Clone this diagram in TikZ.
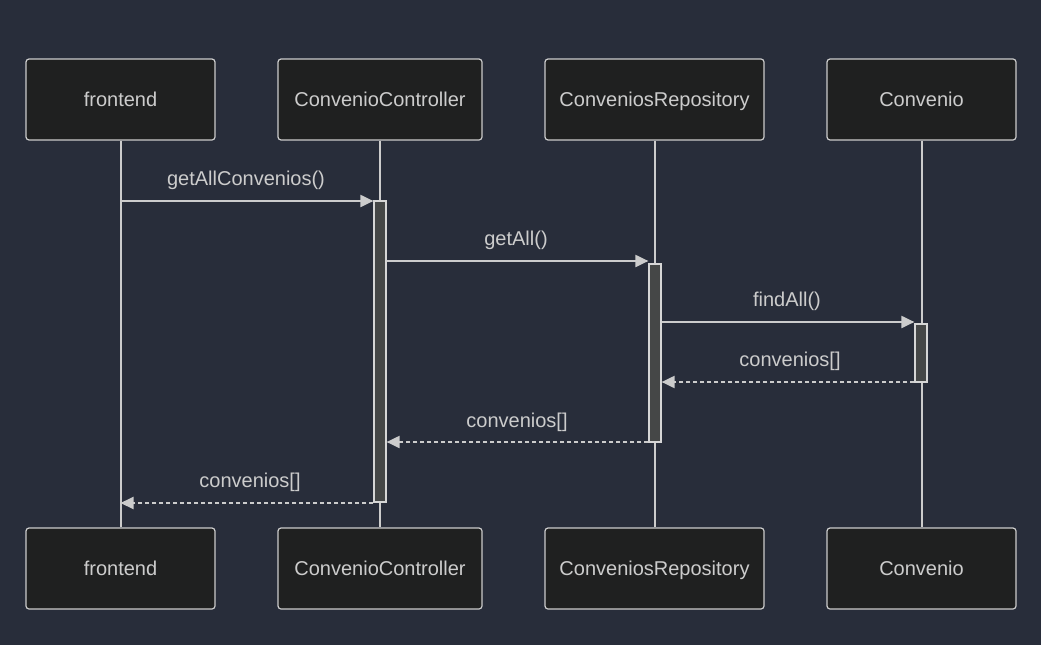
\documentclass[tikz,border=0pt]{standalone}
\usepackage{fontspec}
\setmainfont{Liberation Sans}
\usetikzlibrary{arrows.meta}
\definecolor{bg}{HTML}{282D3A}
\definecolor{boxfill}{HTML}{1F2020}
\definecolor{fg}{HTML}{CCCCCC}
\definecolor{actfill}{HTML}{454747}
\begin{document}
\begin{tikzpicture}[x=1pt,y=-1pt,
  actor/.style={draw=fg, fill=boxfill, line width=1.2pt, rounded corners=3pt,
    text=fg, font=\fontsize{20}{24}\selectfont, inner sep=0pt,
    text height=16.5pt, text depth=2.2pt},
  life/.style={draw=fg, line width=2pt},
  act/.style={draw=fg!80, fill=actfill, line width=1.2pt, inner sep=0pt, minimum width=12pt},
  msg/.style={draw=fg, line width=2pt, -{Triangle[length=13pt,width=12pt]}},
  ret/.style={msg, dash pattern=on 4pt off 3pt},
  lbl/.style={text=fg, font=\fontsize{20}{24}\selectfont}
]
\fill[bg] (0,0) rectangle (1041,645);
\useasboundingbox (0,0) rectangle (1041,645);

% top actors
\node[actor, minimum width=189pt, minimum height=81pt] (f1) at (120.5,99.5) {frontend};
\node[actor, minimum width=204pt, minimum height=81pt] (c1) at (380,99.5) {ConvenioController};
\node[actor, minimum width=219pt, minimum height=81pt] (r1) at (654.5,99.5) {ConveniosRepository};
\node[actor, minimum width=189pt, minimum height=81pt] (v1) at (921.5,99.5) {Convenio};
% bottom actors
\node[actor, minimum width=189pt, minimum height=81pt] (f2) at (120.5,568.5) {frontend};
\node[actor, minimum width=204pt, minimum height=81pt] (c2) at (380,568.5) {ConvenioController};
\node[actor, minimum width=219pt, minimum height=81pt] (r2) at (654.5,568.5) {ConveniosRepository};
\node[actor, minimum width=189pt, minimum height=81pt] (v2) at (921.5,568.5) {Convenio};

% lifelines
\draw[life] (f1.south) -- (f2.north);
\draw[life] (c1.south) -- (c2.north);
\draw[life] (r1.south) -- (r2.north);
\draw[life] (v1.south) -- (v2.north);

% activations
\node[act, minimum height=301pt] (a1) at (380,351.5) {};
\node[act, minimum height=178pt] (a2) at (655,353) {};
\node[act, minimum height=58pt] (a3) at (921,353) {};

% message y positions
\coordinate (y1) at (0,201);
\coordinate (y2) at (0,261);
\coordinate (y3) at (0,322);
\coordinate (y4) at (0,382);
\coordinate (y5) at (0,442);
\coordinate (y6) at (0,503);

\draw[msg] (f1.south |- y1) -- (a1.west |- y1);
\node[lbl] at (246,180.5) {getAllConvenios()};

\draw[msg] (a1.east |- y2) -- (a2.west |- y2);
\node[lbl] at (516,240.5) {getAll()};

\draw[msg] (a2.east |- y3) -- (a3.west |- y3);
\node[lbl] at (787,301.5) {findAll()};

\draw[ret] (a3.west |- y4) -- (a2.east |- y4);
\node[lbl] at (790,361.5) {convenios[]};

\draw[ret] (a2.west |- y5) -- (a1.east |- y5);
\node[lbl] at (517,422.5) {convenios[]};

\draw[ret] (a1.west |- y6) -- (f1.south |- y6);
\node[lbl] at (250,482.5) {convenios[]};
\end{tikzpicture}
\end{document}
